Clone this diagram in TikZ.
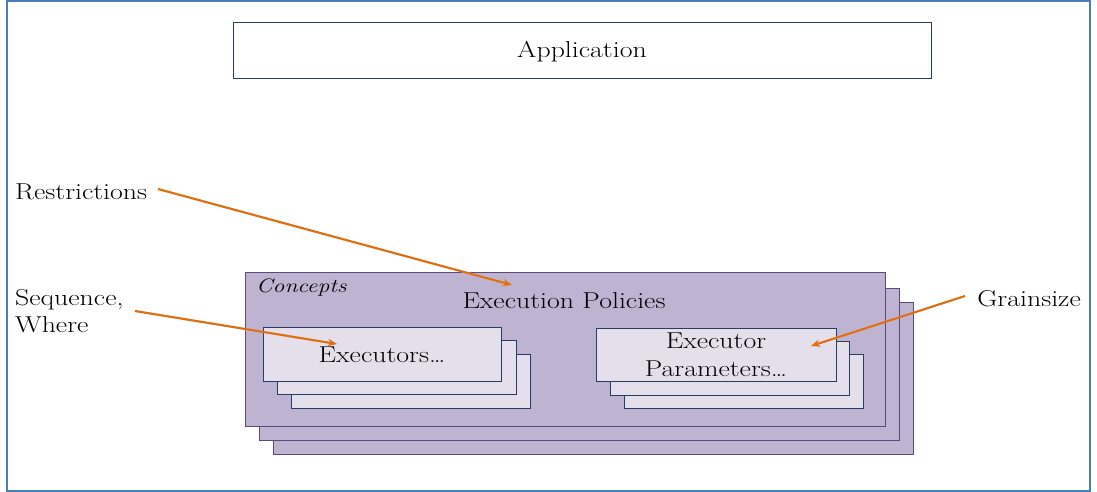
\documentclass[tikz,border=0pt]{standalone}
\usepackage{fontspec}
\setmainfont{lmroman17-regular}[Extension=.otf, ItalicFont=lmroman12-italic, BoldFont=lmroman12-bold, FakeStretch=1.21]
\usetikzlibrary{arrows.meta}
\definecolor{frameblue}{HTML}{4A7EBB}
\definecolor{navy}{HTML}{243F60}
\definecolor{lav}{HTML}{BFB3D2}
\definecolor{lavborder}{HTML}{5F497A}
\definecolor{pale}{HTML}{E5DFEC}
\definecolor{arrorange}{HTML}{E46C0A}
\tikzset{
  outerframe/.style={draw=frameblue, line width=1.2pt},
  appbox/.style={draw=navy, line width=1pt, fill=white},
  conceptbox/.style={draw=lavborder, line width=1pt, fill=lav},
  innerbox/.style={draw=navy, line width=1pt, fill=pale},
  bigtext/.style={font=\fontsize{23}{28}\selectfont, inner sep=0pt},
  labeltext/.style={font=\fontsize{23}{27}\selectfont, inner sep=0pt, align=left},
  pointer/.style={draw=arrorange, line width=2pt, -{Stealth[length=9pt,width=7pt]}},
  pshadow/.style={draw=black!25, line width=2pt, -{Stealth[length=9pt,width=7pt]}}
}
\begin{document}
\begin{tikzpicture}[x=1pt,y=-1pt]
\useasboundingbox (0,0) rectangle (1097,492);
\draw[outerframe] (7,1) rectangle (1090,491);
% Application
\draw[appbox] (233,23) rectangle (931,79);
\node[bigtext] (app) at (582,52) {Application};
% Concepts stack
\draw[conceptbox] (273,302) rectangle (913,454);
\draw[conceptbox] (259,288) rectangle (899,440);
\draw[conceptbox] (245,272) rectangle (885,426);
\node[font=\fontsize{19.5}{24}\selectfont\itshape, inner sep=0pt, anchor=west] (concepts) at (256,288) {Concepts};
\node[bigtext] (policies) at (564,301) {Execution Policies};
% Executors stack
\draw[innerbox] (291,354) rectangle (530,408);
\draw[innerbox] (277,340) rectangle (516,394);
\draw[innerbox] (263,327) rectangle (501,381);
\node[bigtext] (executors) at (382,355) {Executors\ldots};
% Executor parameters stack
\draw[innerbox] (624,354) rectangle (863,408);
\draw[innerbox] (610,341) rectangle (849,395);
\draw[innerbox] (596,328) rectangle (836,381);
\node[bigtext, align=center] (params) at (716,355) {Executor\\Parameters\ldots};
% Labels
\node[labeltext, anchor=west] (restr) at (15,192) {Restrictions};
\node[labeltext, anchor=west] (seq) at (15,311) {Sequence,\\Where};
\node[labeltext, anchor=east] (grain) at (1081,299) {Grainsize};
% Arrow ends
\coordinate (rs) at (158,189);
\coordinate (re) at (512,285);
\coordinate (ss) at (135,311);
\coordinate (se) at (337,344);
\coordinate (gs) at (965,296);
\coordinate (ge) at (811,346);
\begin{scope}[shift={(1,2)}]
\draw[pshadow] (rs) -- (re);
\draw[pshadow] (ss) -- (se);
\draw[pshadow] (gs) -- (ge);
\end{scope}
\draw[pointer] (rs) -- (re);
\draw[pointer] (ss) -- (se);
\draw[pointer] (gs) -- (ge);
\end{tikzpicture}
\end{document}
